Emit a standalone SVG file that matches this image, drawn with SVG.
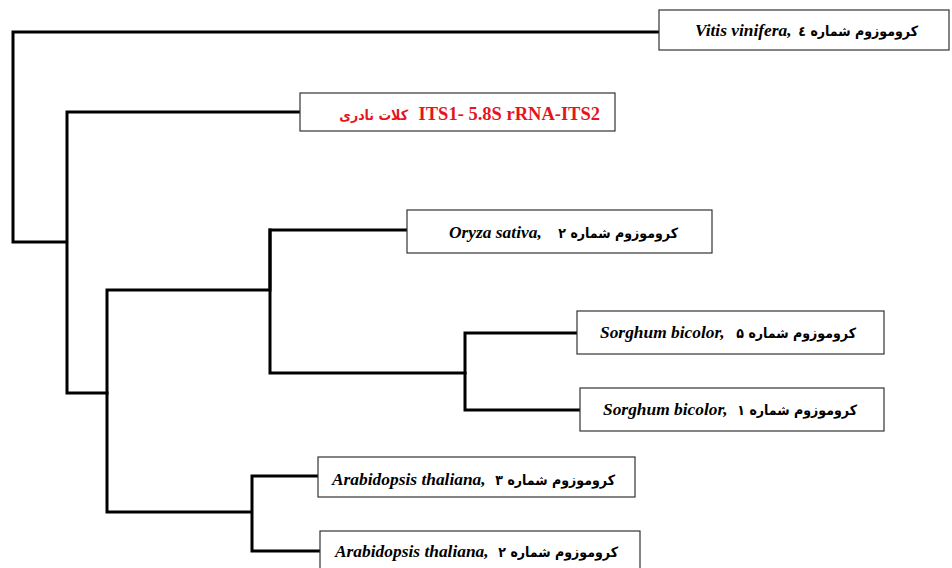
<svg xmlns="http://www.w3.org/2000/svg" width="952" height="568" viewBox="0 0 952 568">
<style>
.box{fill:#fff;stroke:#333;stroke-width:1.2}
.ln{fill:none;stroke:#000;stroke-width:3;stroke-linejoin:miter;stroke-linecap:square}
.lat{font-family:"Liberation Serif","Times New Roman",serif;font-weight:bold;font-style:italic;font-size:17.4px;fill:#000}
.fa{font-family:"DejaVu Sans Condensed","DejaVu Sans",sans-serif;font-stretch:condensed;font-weight:bold;font-size:14px;fill:#000}
.red{fill:#e8141b}
.redlat{font-family:"Liberation Serif","Times New Roman",serif;font-weight:bold;font-size:18.5px}
</style>
<rect width="952" height="568" fill="#fff"/>
<g id="connectors">
<path class="ln" d="M660,32 H13 V242 H65"/>
<path class="ln" d="M300,112 H67 V393 H107"/>
<path class="ln" d="M270,230 V290 H107 V512 H251"/>
<path class="ln" d="M407,230 H270 V373 H465"/>
<path class="ln" d="M578,333 H465 V410 H580"/>
<path class="ln" d="M318,476 H252 V551 H320"/>
</g>
<g id="vitis">
<rect class="box" x="659" y="10" width="290" height="40"/>
<text class="lat" x="695" y="36">Vitis vinifera,</text>
<text class="fa" x="918" y="36" text-anchor="end">کروموزوم شماره ٤</text>
</g>
<g id="kalat">
<rect class="box" x="300" y="93" width="315" height="38"/>
<text class="redlat red" x="600" y="120" text-anchor="end">ITS1- 5.8S rRNA-ITS2</text>
<text class="fa red" x="408" y="120" text-anchor="end">کلات نادری</text>
</g>
<g id="oryza">
<rect class="box" x="407" y="210" width="305" height="43"/>
<text class="lat" x="449" y="238">Oryza sativa,</text>
<text class="fa" x="678" y="238" text-anchor="end">کروموزوم شماره ۲</text>
</g>
<g id="sorghum5">
<rect class="box" x="577" y="311" width="307" height="43"/>
<text class="lat" x="600" y="338">Sorghum bicolor,</text>
<text class="fa" x="856" y="338" text-anchor="end">کروموزوم شماره ۵</text>
</g>
<g id="sorghum1">
<rect class="box" x="580" y="388" width="304" height="43"/>
<text class="lat" x="603" y="415">Sorghum bicolor,</text>
<text class="fa" x="857" y="415" text-anchor="end">کروموزوم شماره ۱</text>
</g>
<g id="arabidopsis3">
<rect class="box" x="318" y="457" width="317" height="40"/>
<text class="lat" x="332" y="485">Arabidopsis thaliana,</text>
<text class="fa" x="615" y="485" text-anchor="end">کروموزوم شماره ۳</text>
</g>
<g id="arabidopsis2">
<rect class="box" x="320" y="531" width="320" height="50"/>
<text class="lat" x="335" y="557">Arabidopsis thaliana,</text>
<text class="fa" x="618" y="557" text-anchor="end">کروموزوم شماره ۲</text>
</g>
</svg>
